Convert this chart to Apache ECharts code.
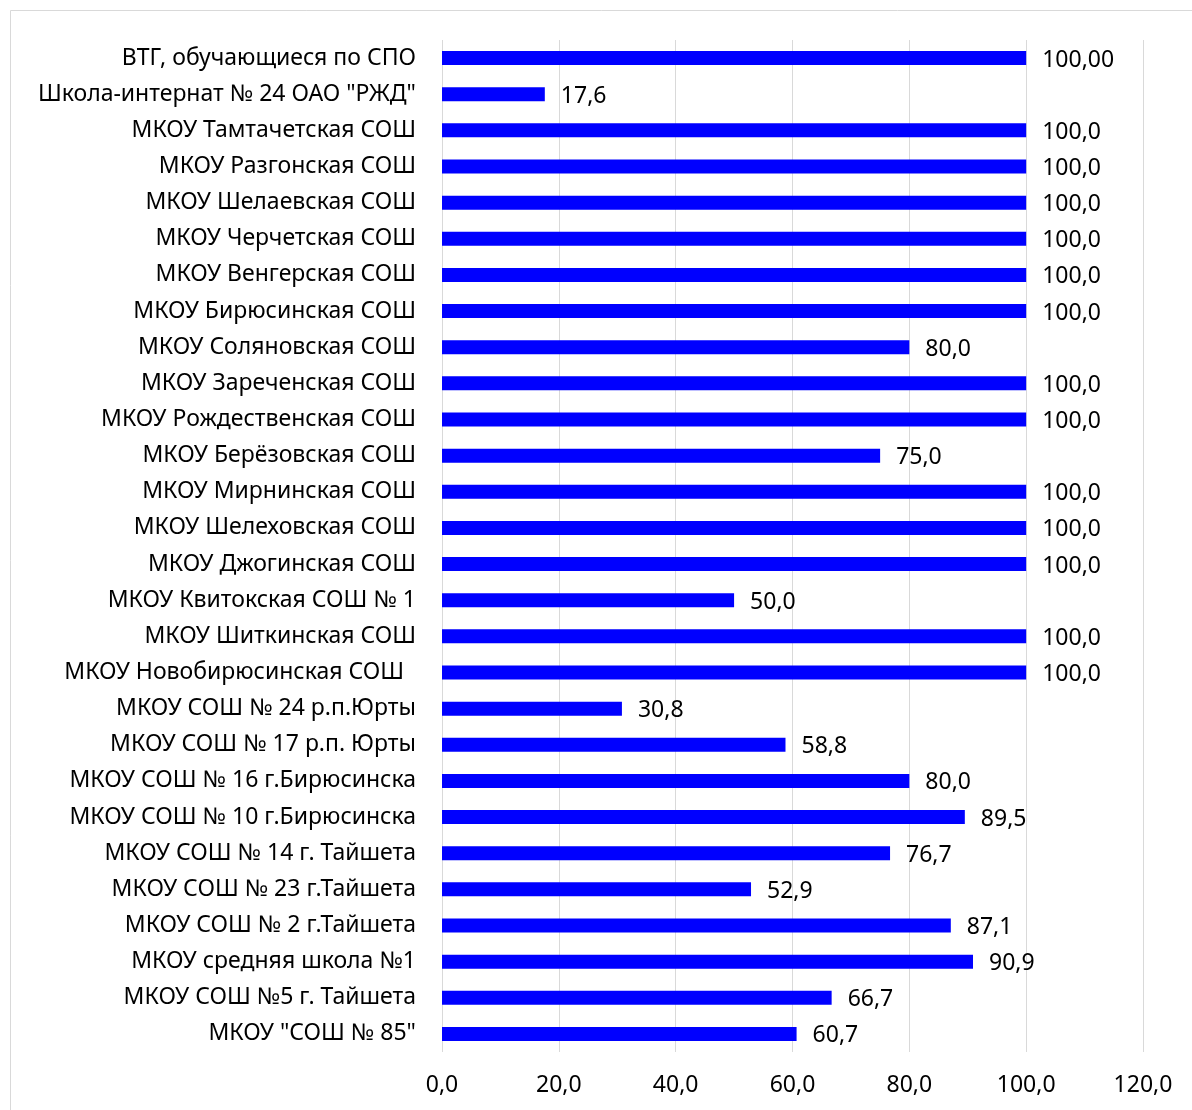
<!DOCTYPE html>
<html><head><meta charset="utf-8">
<script src="https://cdn.jsdelivr.net/npm/echarts@6/dist/echarts.min.js"></script>
<style>html,body{margin:0;padding:0;background:#fff}#c{width:1192px;height:1110px}</style>
</head><body><div id="c"></div>
<script>
const categories = [
  'ВТГ, обучающиеся по СПО',
  'Школа-интернат № 24 ОАО "РЖД"',
  'МКОУ Тамтачетская СОШ',
  'МКОУ Разгонская СОШ',
  'МКОУ Шелаевская СОШ',
  'МКОУ Черчетская СОШ',
  'МКОУ Венгерская СОШ',
  'МКОУ Бирюсинская СОШ',
  'МКОУ Соляновская СОШ',
  'МКОУ Зареченская СОШ',
  'МКОУ Рождественская СОШ',
  'МКОУ Берёзовская СОШ',
  'МКОУ Мирнинская СОШ',
  'МКОУ Шелеховская СОШ',
  'МКОУ Джогинская СОШ',
  'МКОУ Квитокская СОШ № 1',
  'МКОУ Шиткинская СОШ',
  'МКОУ Новобирюсинская СОШ  ',
  'МКОУ СОШ № 24 р.п.Юрты',
  'МКОУ СОШ № 17 р.п. Юрты',
  'МКОУ СОШ № 16 г.Бирюсинска',
  'МКОУ СОШ № 10 г.Бирюсинска',
  'МКОУ СОШ № 14 г. Тайшета',
  'МКОУ СОШ № 23 г.Тайшета',
  'МКОУ СОШ № 2 г.Тайшета',
  'МКОУ средняя школа №1',
  'МКОУ СОШ №5 г. Тайшета',
  'МКОУ "СОШ № 85"'
];
const values = [100, 17.6, 100, 100, 100, 100, 100, 100, 80, 100, 100, 75, 100, 100, 100, 50, 100, 100, 30.8, 58.8, 80, 89.5, 76.7, 52.9, 87.1, 90.9, 66.7, 60.7];
const valueLabels = ['100,00', '17,6', '100,0', '100,0', '100,0', '100,0', '100,0', '100,0', '80,0', '100,0', '100,0', '75,0', '100,0', '100,0', '100,0', '50,0', '100,0', '100,0', '30,8', '58,8', '80,0', '89,5', '76,7', '52,9', '87,1', '90,9', '66,7', '60,7'];
const FONT = 'Noto Sans';
const chart = echarts.init(document.getElementById('c'), null, {renderer: 'canvas'});
chart.setOption({
  animation: false,
  backgroundColor: '#fff',
  graphic: [{type: 'rect', shape: {x: 10.5, y: 10.5, width: 1300, height: 1300}, style: {fill: 'none', stroke: '#d9d9d9', lineWidth: 1}, silent: true}],
  grid: {left: 442, right: 49, top: 40, bottom: 58, containLabel: false},
  xAxis: {
    type: 'value', min: 0, max: 120, interval: 20,
    axisLine: {show: false}, axisTick: {show: false},
    splitLine: {lineStyle: {color: '#d9d9d9', width: 1}},
    axisLabel: {formatter: v => v.toFixed(1).replace('.', ','), color: '#000', fontFamily: FONT, fontSize: 23, margin: 22}
  },
  yAxis: {
    type: 'category', data: categories, inverse: true,
    axisLine: {show: false}, axisTick: {show: false},
    axisLabel: {color: '#000', fontFamily: FONT, fontSize: 23, margin: 26, padding: [4, 0, 0, 0]}
  },
  series: [{
    type: 'bar', data: values, barWidth: 14,
    itemStyle: {color: '#0000ff'},
    label: {show: true, position: 'right', distance: 16, offset: [0, 2], color: '#000', fontFamily: FONT, fontSize: 23,
      formatter: p => valueLabels[p.dataIndex]}
  }]
});
</script></body></html>
